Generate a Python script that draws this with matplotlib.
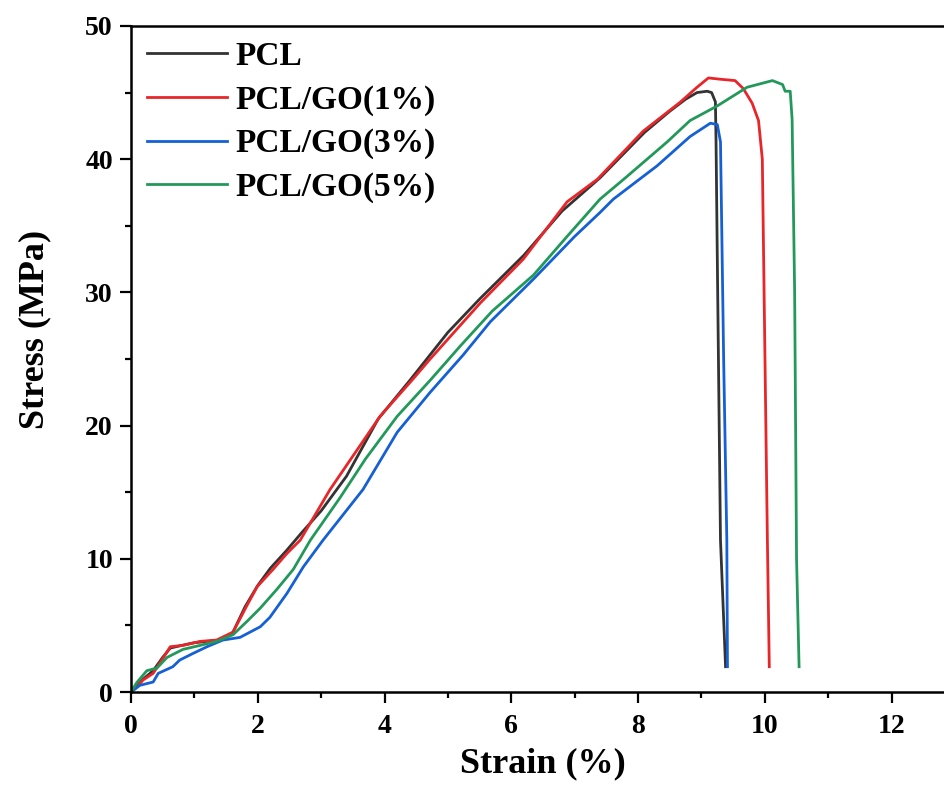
import matplotlib
matplotlib.use("Agg")
import matplotlib.pyplot as plt
from matplotlib.ticker import MultipleLocator

# strain (%) / stress (MPa)
pcl_x = [0, 0.1, 0.2, 0.35, 0.5, 0.62, 0.8, 1.0, 1.2, 1.4, 1.6, 1.8, 2.0, 2.2,
         2.45, 2.7, 3.0, 3.4, 3.9, 4.4, 5.0, 5.5, 6.2, 6.8, 7.4, 8.1, 8.5,
         8.75, 8.93, 9.09, 9.16, 9.22, 9.23, 9.25, 9.3, 9.38]
pcl_y = [0, 0.5, 1.0, 1.6, 2.6, 3.3, 3.5, 3.7, 3.8, 3.9, 4.4, 6.4, 8.0, 9.3,
         10.6, 12.0, 13.6, 16.2, 20.5, 23.4, 27.0, 29.5, 32.8, 36.1, 38.6,
         42.0, 43.6, 44.5, 45.0, 45.1, 45.0, 44.3, 41.3, 32.5, 11.4, 1.9]

go1_x = [0, 0.1, 0.19, 0.35, 0.5, 0.62, 0.82, 1.09, 1.35, 1.61, 1.83, 1.99,
         2.24, 2.46, 2.67, 3.14, 3.93, 4.45, 4.72, 5.51, 6.19, 6.88, 7.36,
         8.08, 8.67, 8.93, 9.11, 9.3, 9.53, 9.66, 9.8, 9.9, 9.96, 10.04, 10.07]
go1_y = [0, 0.4, 0.9, 1.4, 2.5, 3.4, 3.5, 3.8, 3.9, 4.5, 6.5, 7.9, 9.2, 10.4,
         11.4, 15.2, 20.7, 23.5, 25.0, 29.2, 32.5, 36.8, 38.5, 42.1, 44.3,
         45.4, 46.1, 46.0, 45.9, 45.3, 44.2, 42.9, 40.0, 11.4, 1.9]

go3_x = [0, 0.14, 0.35, 0.43, 0.66, 0.77, 0.98, 1.2, 1.45, 1.72, 2.04, 2.19,
         2.46, 2.72, 3.03, 3.66, 4.2, 4.72, 5.24, 5.67, 6.35, 7.0, 7.4, 7.61,
         8.3, 8.82, 9.14, 9.25, 9.3, 9.35, 9.4, 9.41]
go3_y = [0, 0.5, 0.75, 1.4, 1.9, 2.4, 2.9, 3.4, 3.9, 4.1, 4.9, 5.6, 7.4, 9.4,
         11.4, 15.2, 19.5, 22.5, 25.3, 27.8, 31.0, 34.2, 36.0, 37.0, 39.5,
         41.7, 42.7, 42.6, 41.3, 25.0, 11.4, 1.9]

go5_x = [0, 0.09, 0.25, 0.41, 0.57, 0.82, 1.09, 1.35, 1.61, 1.83, 2.04, 2.3,
         2.56, 2.83, 3.3, 3.7, 4.2, 4.72, 5.2, 5.7, 6.35, 6.88, 7.4, 7.8,
         8.46, 8.82, 9.25, 9.72, 10.12, 10.28, 10.32, 10.4, 10.43, 10.47,
         10.5, 10.54]
go5_y = [0, 0.7, 1.6, 1.8, 2.6, 3.2, 3.5, 3.8, 4.3, 5.3, 6.3, 7.7, 9.2, 11.4,
         14.6, 17.5, 20.7, 23.4, 26.0, 28.6, 31.3, 34.2, 37.0, 38.6, 41.3,
         42.9, 44.0, 45.4, 45.9, 45.6, 45.1, 45.1, 43.0, 30.0, 10.0, 1.9]

labels = ["PCL", "PCL/GO(1%)", "PCL/GO(3%)", "PCL/GO(5%)"]
colors = ["#333333", "#E8262A", "#1560D4", "#22995A"]

plt.rcParams["font.family"] = "Liberation Serif"
plt.rcParams["font.weight"] = "bold"

fig = plt.figure(figsize=(9.45, 7.99), dpi=100)
# axes runs a bit past the right edge, as in the cropped original
ax = fig.add_axes([0.1386, 0.1339, 0.872, 0.8336])

series = [(pcl_x, pcl_y), (go1_x, go1_y), (go3_x, go3_y), (go5_x, go5_y)]
for (xs, ys), lab, c in zip(series, labels, colors):
    ax.plot(xs, ys, color=c, lw=2.0, label=lab)

ax.set_xlim(0, 13)
ax.set_ylim(0, 50)
ax.xaxis.set_major_locator(MultipleLocator(2))
ax.xaxis.set_minor_locator(MultipleLocator(1))
ax.yaxis.set_major_locator(MultipleLocator(10))
ax.yaxis.set_minor_locator(MultipleLocator(5))

for s in ax.spines.values():
    s.set_linewidth(1.8)
ax.spines["right"].set_visible(False)

ax.tick_params(which="major", direction="out", length=8, width=1.6,
               labelsize=20)
ax.tick_params(which="minor", direction="out", length=4.5, width=1.6)
ax.tick_params(axis="x", which="major", pad=8)
ax.tick_params(axis="y", which="major", pad=5)

ax.set_xlabel("Strain (%)", fontsize=26, fontweight="bold")
ax.set_ylabel("Stress (MPa)", fontsize=26, fontweight="bold")
ax.xaxis.set_label_coords(0.5, -0.083)
ax.yaxis.set_label_coords(-0.097, 0.545)

ax.legend(loc="upper left", bbox_to_anchor=(0.019, 0.978), frameon=False,
          fontsize=24, handlelength=2.4, handletextpad=0.25,
          labelspacing=0.38, borderpad=0, borderaxespad=0)

fig.savefig("out.png", dpi=100)
